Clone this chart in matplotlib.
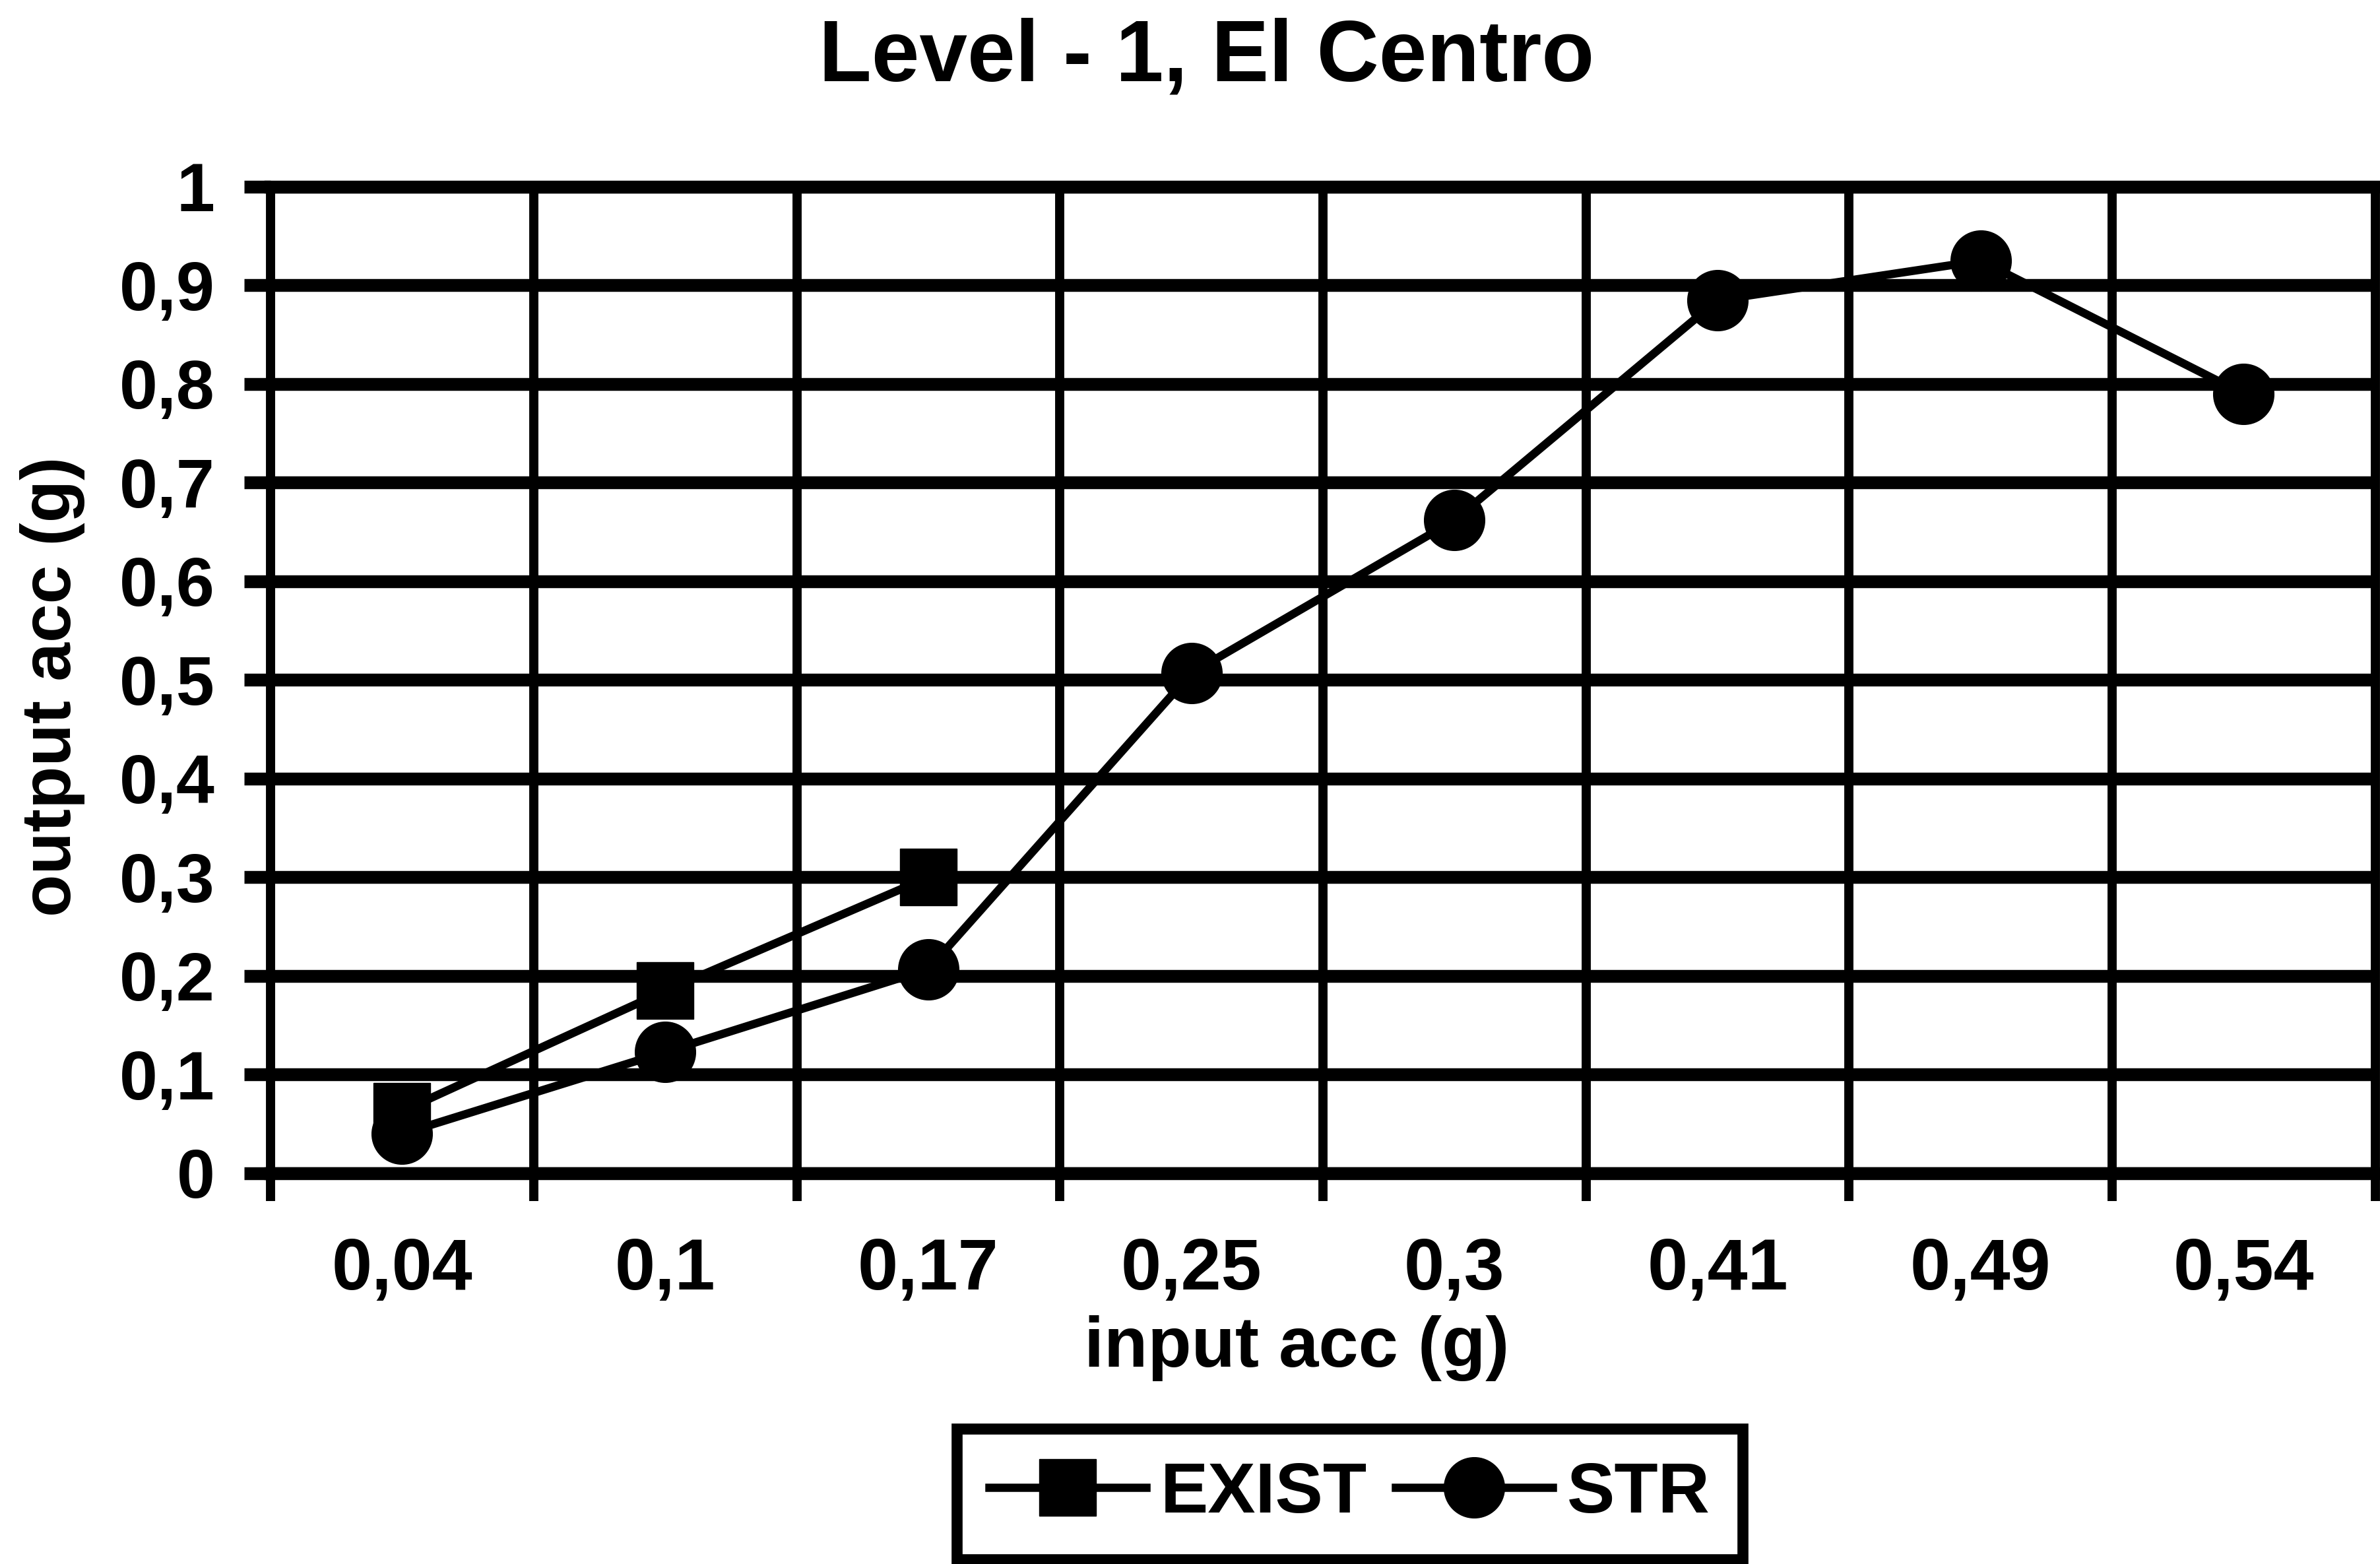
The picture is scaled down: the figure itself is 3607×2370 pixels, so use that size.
import matplotlib
matplotlib.use("Agg")
import matplotlib.pyplot as plt
import numpy as np

# Data (input acc categories, output acc in g)
categories = ["0,04", "0,1", "0,17", "0,25", "0,3", "0,41", "0,49", "0,54"]
exist_vals = [0.063, 0.185, 0.30]
str_vals = [0.04, 0.123, 0.207, 0.507, 0.662, 0.885, 0.925, 0.79]
y_ticks = [0, 0.1, 0.2, 0.3, 0.4, 0.5, 0.6, 0.7, 0.8, 0.9, 1.0]
y_labels = ["0", "0,1", "0,2", "0,3", "0,4", "0,5", "0,6", "0,7", "0,8", "0,9", "1"]

plt.rcParams['font.family'] = ['Liberation Sans', 'DejaVu Sans']
plt.rcParams['font.weight'] = 'bold'

fig = plt.figure(figsize=(36.07, 23.70), dpi=100)
ax = fig.add_axes([0.1137, 0.2498, 0.8843, 0.6308])

x = np.arange(len(categories))
ax.plot(x[:len(exist_vals)], exist_vals, color='black', lw=9, marker='s', ms=62,
        label='EXIST')
ax.plot(x, str_vals, color='black', lw=9, marker='o', ms=66, label='STR')

ax.set_xlim(-0.5, len(categories) - 0.5)
ax.set_ylim(0, 1)

# category labels at centres, tick marks / vertical grid at boundaries
ax.set_xticks(x)
ax.set_xticklabels(categories, fontsize=79, fontweight='bold')
ax.set_xticks(np.arange(-0.5, len(categories)), minor=True)
ax.tick_params(axis='x', which='major', length=0, pad=70)
ax.tick_params(axis='x', which='minor', length=30, width=10, direction='out',
               color='black')

ax.set_yticks(y_ticks)
ax.set_yticklabels(y_labels, fontsize=75, fontweight='bold')
ax.tick_params(axis='y', length=29, width=14, pad=32, color='black')

ax.grid(which='minor', axis='x', color='black', lw=10)
ax.grid(which='major', axis='y', color='black', lw=14)
ax.set_axisbelow(True)

for side, lw in [('left', 10), ('right', 10), ('top', 14), ('bottom', 14)]:
    ax.spines[side].set_color('black')
    ax.spines[side].set_linewidth(lw)

fig.text(0.507, 0.963, "Level - 1, El Centro", ha='center', va='center',
         fontsize=94, fontweight='bold')
fig.text(0.5447, 0.138, "input acc (g)", ha='center', va='center',
         fontsize=78, fontweight='bold')
fig.text(0.022, 0.561, "output acc (g)", ha='center', va='center',
         rotation=90, fontsize=76, fontweight='bold')

leg = fig.legend(loc='lower center', bbox_to_anchor=(0.567, 0.003), ncol=2,
                 prop={'size': 78, 'weight': 'bold'}, frameon=True,
                 fancybox=False, edgecolor='black', framealpha=1,
                 handlelength=2.2, handletextpad=0.2, columnspacing=0.4,
                 borderpad=0.45, borderaxespad=0)
leg.get_frame().set_linewidth(12)

fig.savefig('out.png', dpi=100)
plt.close()
